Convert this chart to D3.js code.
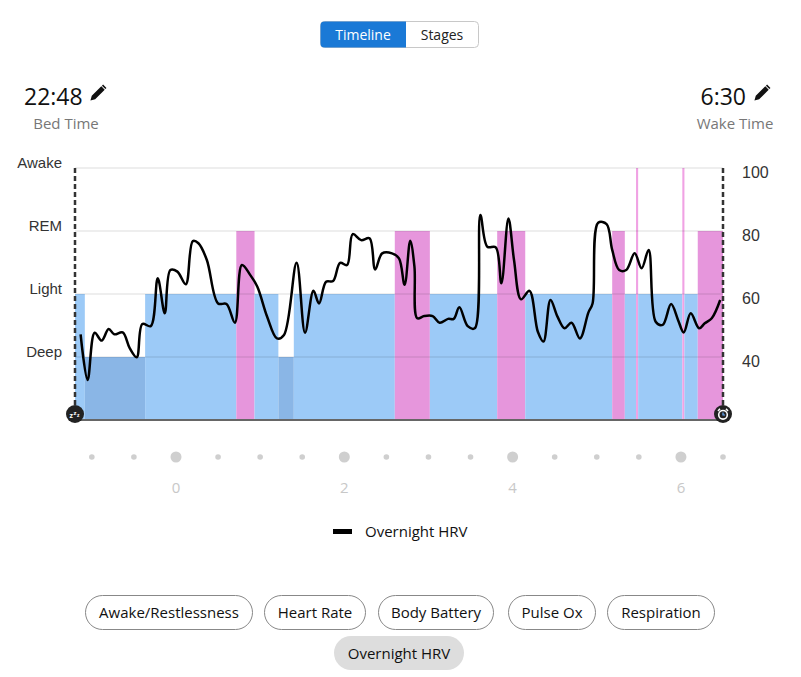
<!DOCTYPE html>
<html>
<head>
<meta charset="utf-8">
<script src="https://cdn.jsdelivr.net/npm/d3@7"></script>
<style>
  html, body { margin: 0; padding: 0; background: #fff; }
  svg { display: block; font-family: "Open Sans", "Noto Sans", sans-serif; }
</style>
</head>
<body>
<svg id="chart" width="801" height="677"></svg>
<script>
// ---------- DATA ----------
const bedTime = "22:48";
const wakeTime = "6:30";
const stageNames = ["Deep", "Light", "REM", "Awake"];          // levels 1..4
const stageStart = [-72, -65, -22, 43, 56, 73, 84, 156, 181, 229, 249, 311, 320, 328, 329.5, 361, 362.5, 372];
const stageEnd   = [-65, -22, 43, 56, 73, 84, 156, 181, 229, 249, 311, 320, 328, 329.5, 361, 362.5, 372, 390];
const stageType  = ["Light","Deep","Light","REM","Light","Deep","Light","REM","Light","REM","Light","REM","Light","Awake","Light","Awake","Light","REM"];

// minutes from midnight
const hrvMinutes = [-68, -63, -58, -53, -48, -44, -38, -33, -28, -24, -18, -13, -8, -4, 1, 7, 12, 16, 22, 30, 36, 42,
  47, 53, 58, 65, 72, 77, 86, 92, 98, 102, 107, 112, 117, 122, 126, 132, 138, 142, 147, 154, 159, 163, 167, 170,
  172, 177, 183, 188, 194, 198, 202, 208, 213, 217, 222, 228, 232, 237, 241, 246, 252, 258, 262, 267, 272, 277,
  282, 288, 294, 297, 301, 307, 311, 316, 321, 327, 332, 337, 342, 347, 353, 358, 362, 367, 373, 377, 382, 388];
const hrvValues = [47.2, 32.7, 47.7, 45.2, 48.9, 47.2, 47.8, 42.8, 39.9, 50.5, 49.8, 65.0, 53.9, 67.6, 67.1, 63.1, 76.8, 76.1, 70.8, 57.0, 56.8, 50.9,
  69.2, 66.0, 62.3, 52.8, 45.9, 47.0, 69.9, 47.7, 61.0, 57.0, 63.9, 64.1, 69.9, 69.2, 79.0, 77.1, 77.7, 67.8, 72.9, 72.9, 71.3, 62.9, 76.9, 68.7,
  52.3, 53.0, 53.0, 50.9, 52.1, 52.1, 55.8, 49.8, 49.1, 85.1, 75.0, 74.8, 63.4, 84.0, 70.8, 58.3, 61.0, 48.0, 44.9, 58.1, 52.8, 49.1,
  50.9, 45.9, 54.1, 57.0, 82.6, 82.2, 74.0, 67.6, 67.6, 72.9, 68.2, 74.0, 51.2, 50.2, 56.8, 51.7, 47.8, 53.9, 49.1, 50.7, 52.3, 58.1];

const hrvTicks = [40, 60, 80, 100];
const hourTickMinutes = [0, 120, 240, 360];
const hourTickLabels = ["0", "2", "4", "6"];
const legendLabel = "Overnight HRV";
const toggleLabels = ["Timeline", "Stages"];
const pillRow1 = ["Awake/Restlessness", "Heart Rate", "Body Battery", "Pulse Ox", "Respiration"];
const pillRow2 = ["Overnight HRV"];

// ---------- LAYOUT ----------
const svg = d3.select("#chart");
const X0 = 75, X1 = 723, YB = 420, YT = 168;
const x = d3.scaleLinear().domain([-72, 390]).range([X0, X1]);
const yStage = d3.scaleLinear().domain([0, 4]).range([YB, YT]);
const yHrv = d3.scaleLinear().domain([20, 100]).range([YB, YT]);
const stageColor = { Deep: "#8ab6e6", Light: "#9ccaf7", REM: "#e696dc", Awake: "#f0a2e4" };
const axisFont = "'Liberation Sans', Arial, sans-serif";

// toggle buttons
const tg = svg.append("g");
tg.append("rect").attr("x", 320.5).attr("y", 21.5).attr("width", 158).attr("height", 26).attr("rx", 4)
  .attr("fill", "#fff").attr("stroke", "#c8c8c8");
tg.append("path").attr("d", "M406,21.5 H324.5 a4,4 0 0 0 -4,4 V43.5 a4,4 0 0 0 4,4 H406 Z").attr("fill", "#1a79d6");
tg.append("text").attr("x", 363).attr("y", 39.5).attr("text-anchor", "middle").attr("font-size", 14)
  .attr("fill", "#fff").text(toggleLabels[0]);
tg.append("text").attr("x", 442).attr("y", 39.5).attr("text-anchor", "middle").attr("font-size", 14)
  .attr("fill", "#222").text(toggleLabels[1]);

// header times
function pencil(px, py) {
  svg.append("path")
    .attr("transform", `translate(${px},${py}) rotate(45)`)
    .attr("d", "M-2.4,-8.5 h4.8 v13.5 l-2.4,4.3 l-2.4,-4.3 Z M-2.4,-11 h4.8 v1.6 h-4.8 Z")
    .attr("fill", "#111");
}
svg.append("text").attr("x", 24).attr("y", 105).attr("font-size", 23).attr("fill", "#111").text(bedTime);
pencil(97, 94);
svg.append("text").attr("x", 66).attr("y", 129).attr("text-anchor", "middle").attr("font-size", 15).attr("fill", "#777").text("Bed Time");
svg.append("text").attr("x", 746).attr("y", 105).attr("text-anchor", "end").attr("font-size", 23).attr("fill", "#111").text(wakeTime);
pencil(761, 94);
svg.append("text").attr("x", 735).attr("y", 129).attr("text-anchor", "middle").attr("font-size", 15).attr("fill", "#777").text("Wake Time");

// stage blocks
const stages = stageStart.map((s, i) => ({ s, e: stageEnd[i], t: stageType[i] }));
svg.append("g").selectAll("rect").data(stages).join("rect")
  .attr("x", d => x(d.s))
  .attr("width", d => Math.max(2, x(d.e) - x(d.s)))
  .attr("y", d => yStage(stageNames.indexOf(d.t) + 1))
  .attr("height", d => YB - yStage(stageNames.indexOf(d.t) + 1))
  .attr("fill", d => stageColor[d.t]);

// gridlines
svg.append("g").selectAll("line").data([1, 2, 3, 4]).join("line")
  .attr("x1", X0).attr("x2", X1)
  .attr("y1", d => yStage(d)).attr("y2", d => yStage(d))
  .attr("stroke", "rgba(0,0,0,0.09)").attr("stroke-width", 1.5);

// stage labels
svg.append("g").selectAll("text").data(stageNames).join("text")
  .attr("x", 62).attr("y", (d, i) => yStage(i + 1) - 0.5)
  .attr("text-anchor", "end").attr("font-size", 15).attr("fill", "#333")
  .style("font-family", axisFont).text(d => d);

// right axis
const ra = svg.append("g").attr("transform", `translate(${X1 + 19},0)`)
  .call(d3.axisRight(yHrv).tickValues(hrvTicks).tickSize(0).tickPadding(0));
ra.select(".domain").remove();
ra.selectAll("text").attr("font-size", 16).attr("fill", "#333").attr("dy", "0.35em")
  .attr("transform", "translate(0,4)").style("font-family", axisFont);

// bottom axis line
svg.append("line").attr("x1", X0).attr("x2", X1).attr("y1", YB).attr("y2", YB)
  .attr("stroke", "#666").attr("stroke-width", 2);

// HRV line
const pts = hrvMinutes.map((m, i) => [m, hrvValues[i]]);
svg.append("path").datum(pts)
  .attr("d", d3.line().x(d => x(d[0])).y(d => yHrv(d[1])).curve(d3.curveCatmullRom.alpha(0.5)))
  .attr("fill", "none").attr("stroke", "#000").attr("stroke-width", 2.5).attr("stroke-linejoin", "round");

// dashed bed/wake lines
[X0, X1].forEach(xx => {
  svg.append("line").attr("x1", xx).attr("x2", xx).attr("y1", YT).attr("y2", YB - 6)
    .attr("stroke", "#333").attr("stroke-width", 2.5).attr("stroke-dasharray", "5,3");
});

// icons
const iz = svg.append("g").attr("transform", `translate(${X0},414)`);
iz.append("circle").attr("r", 9).attr("fill", "#222");
iz.append("text").attr("x", -5.5).attr("y", 3.5).attr("font-size", 7).attr("font-weight", "bold").attr("fill", "#fff").text("z");
iz.append("text").attr("x", -1.5).attr("y", 0.5).attr("font-size", 6).attr("font-weight", "bold").attr("fill", "#fff").text("z");
iz.append("text").attr("x", 2).attr("y", 2.5).attr("font-size", 5).attr("font-weight", "bold").attr("fill", "#fff").text("z");
const ic = svg.append("g").attr("transform", `translate(${X1},414)`);
ic.append("circle").attr("r", 9).attr("fill", "#222");
ic.append("circle").attr("r", 4.3).attr("cy", 0.8).attr("fill", "none").attr("stroke", "#fff").attr("stroke-width", 1.6);
ic.append("path").attr("d", "M0,-1.5 V1 H2").attr("fill", "none").attr("stroke", "#6ab0ff").attr("stroke-width", 1.2);
ic.append("path").attr("d", "M-5,-3 L-3,-5.2 M5,-3 L3,-5.2").attr("stroke", "#fff").attr("stroke-width", 1.6);

// x time dots
const dotMinutes = d3.range(-60, 391, 30);
svg.append("g").selectAll("circle").data(dotMinutes).join("circle")
  .attr("cx", d => x(d)).attr("cy", 457)
  .attr("r", d => (d % 120 === 0 ? 5.5 : 2.8))
  .attr("fill", "#cfcfcf");
svg.append("g").selectAll("text").data(hourTickMinutes).join("text")
  .attr("x", d => x(d)).attr("y", 493).attr("text-anchor", "middle")
  .attr("font-size", 15).attr("fill", "#c8c8c8").text((d, i) => hourTickLabels[i]);

// legend
svg.append("rect").attr("x", 333).attr("y", 529).attr("width", 19).attr("height", 5).attr("fill", "#000");
svg.append("text").attr("x", 365).attr("y", 536.5).attr("font-size", 15).attr("fill", "#111").text(legendLabel);

// pills
const row1X = [85, 264, 378, 508, 607];
const row1W = [167, 101, 115, 87, 107];
pillRow1.forEach((lab, i) => {
  svg.append("rect").attr("x", row1X[i] + 0.5).attr("y", 595.5).attr("width", row1W[i]).attr("height", 34)
    .attr("rx", 17).attr("fill", "#fff").attr("stroke", "#888");
  svg.append("text").attr("x", row1X[i] + 0.5 + row1W[i] / 2).attr("y", 617.5).attr("text-anchor", "middle")
    .attr("font-size", 15).attr("fill", "#111").text(lab);
});
svg.append("rect").attr("x", 334).attr("y", 636).attr("width", 130).attr("height", 34)
  .attr("rx", 17).attr("fill", "#dddddd");
svg.append("text").attr("x", 399).attr("y", 658.5).attr("text-anchor", "middle")
  .attr("font-size", 15).attr("fill", "#111").text(pillRow2[0]);
</script>
</body>
</html>
